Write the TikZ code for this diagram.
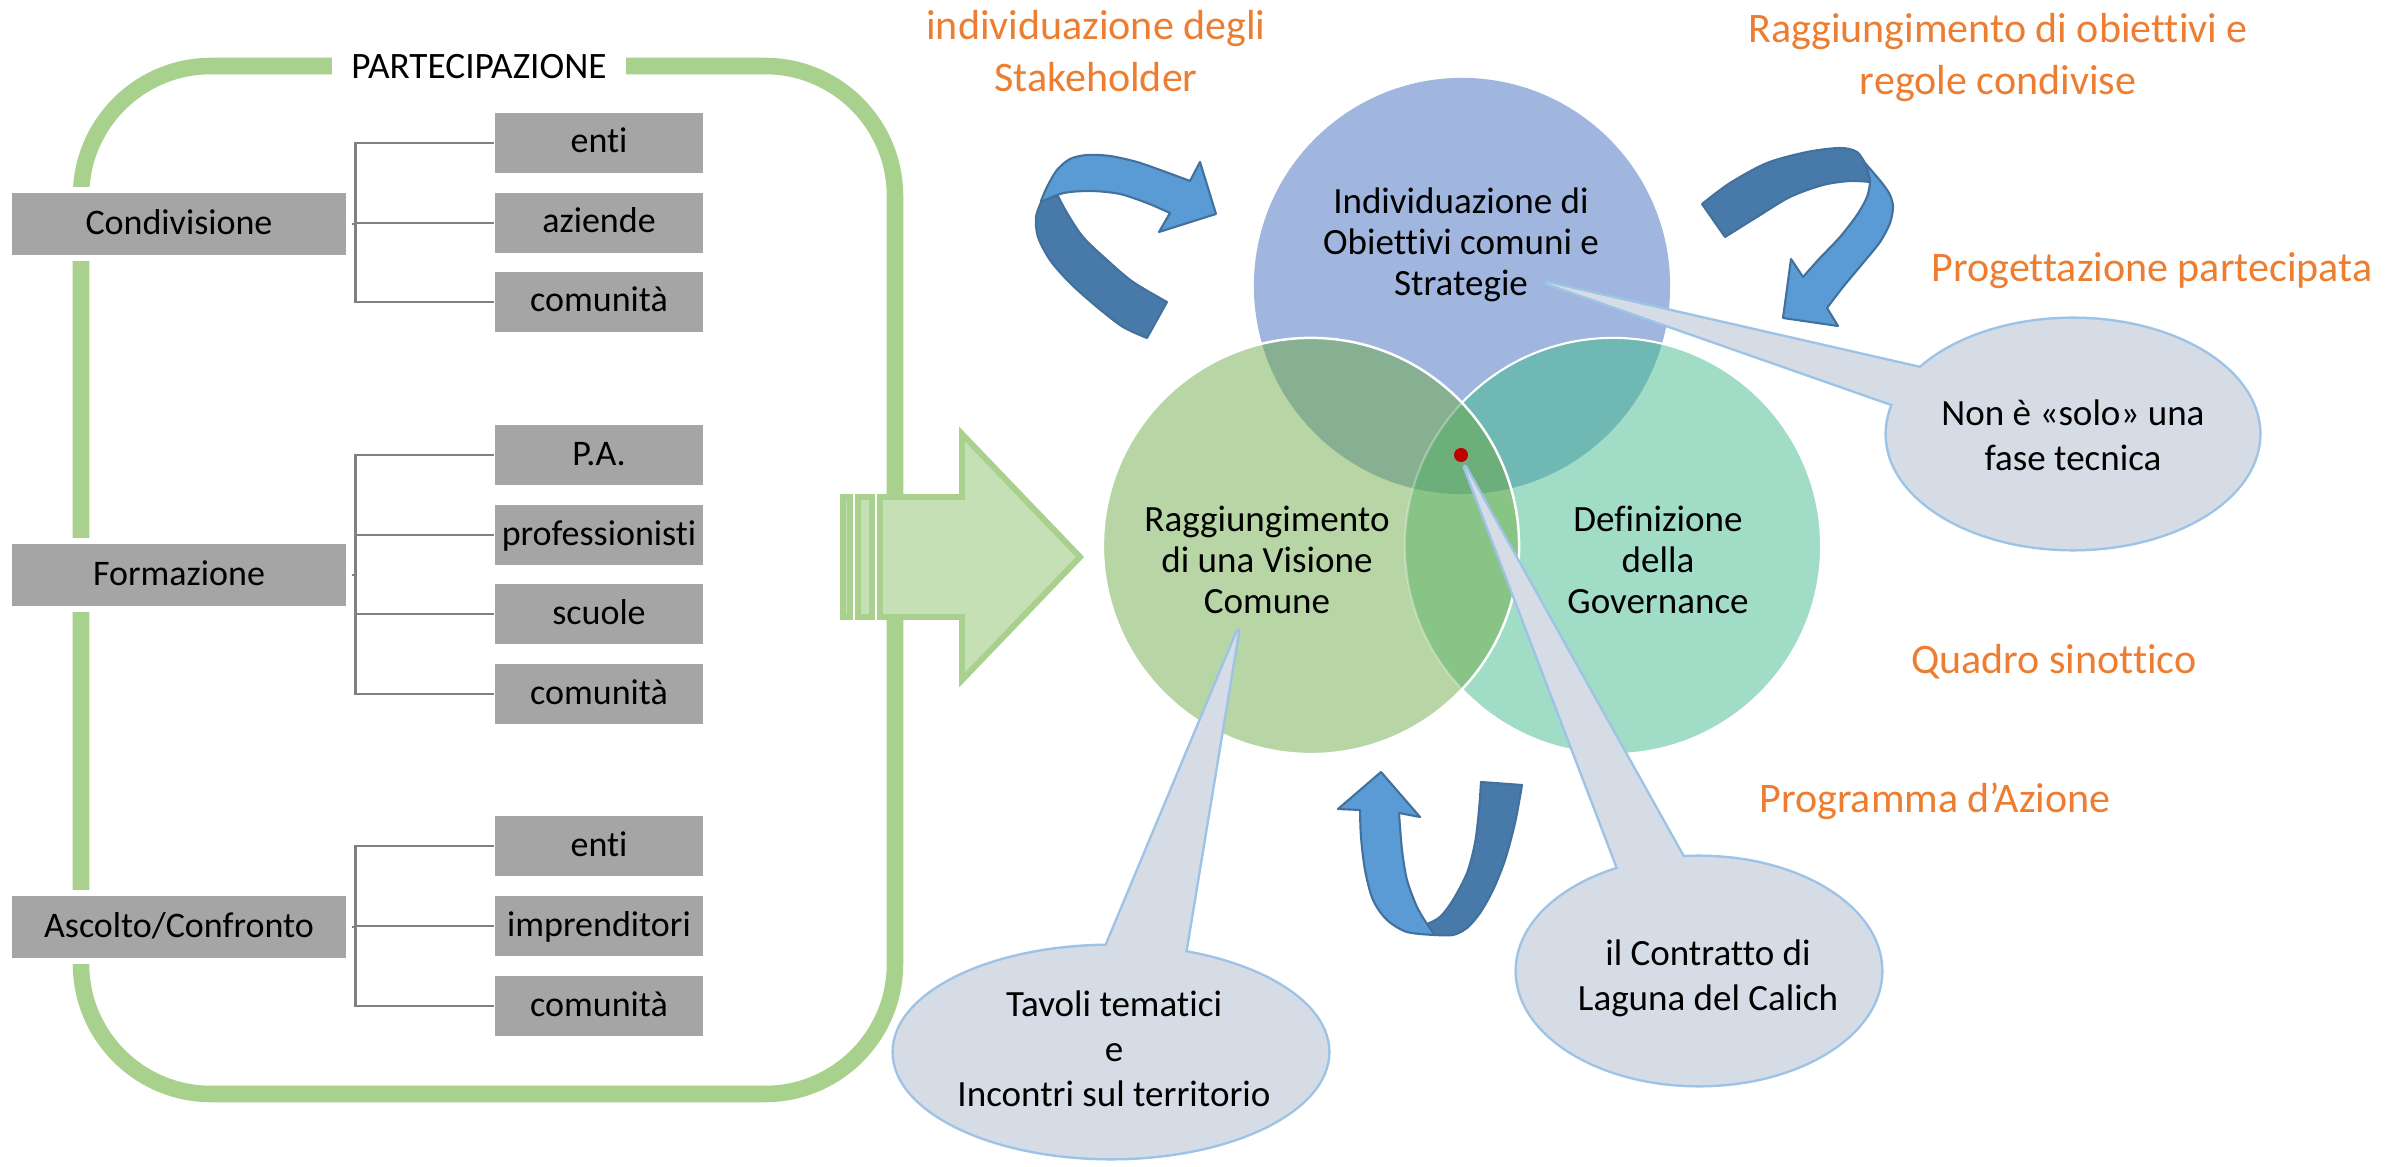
\documentclass[tikz,border=0pt]{standalone}
\usepackage{fontspec}
\setmainfont[Ligatures={NoCommon}]{Carlito}
\definecolor{boxgray}{HTML}{A5A5A5}
\definecolor{conngray}{HTML}{808080}
\definecolor{framegreen}{HTML}{A9D18E}
\definecolor{arrowfill}{HTML}{C5E0B4}
\definecolor{orangetxt}{HTML}{ED7D31}
\definecolor{blueC}{HTML}{A0B6DF}
\definecolor{tealC}{HTML}{A1DCC6}
\definecolor{greenC}{HTML}{B7D5A5}
\definecolor{bgC}{HTML}{87B092}
\definecolor{btC}{HTML}{70B8B4}
\definecolor{gtC}{HTML}{89C487}
\definecolor{allC}{HTML}{6DAF7B}
\definecolor{callfill}{HTML}{D6DCE5}
\definecolor{callborder}{HTML}{9DC3E6}
\definecolor{arlight}{HTML}{5B9BD5}
\definecolor{ardark}{HTML}{4779A9}
\definecolor{arline}{HTML}{41719C}
\definecolor{dotred}{HTML}{C00000}
\newcommand\fBox{\fontsize{10.24pt}{12.5pt}\selectfont}
\newcommand\fPart{\fontsize{10.6pt}{12.8pt}\selectfont}
\newcommand\fCirc{\fontsize{10.53pt}{11.67pt}\selectfont}
\newcommand\fCall{\fontsize{10.53pt}{12.8pt}\selectfont}
\newcommand\fOr{\fontsize{11.95pt}{14.8pt}\selectfont}
\begin{document}
\begin{tikzpicture}[x=0.01cm,y=-0.01cm,
  catbox/.style={fill=boxgray,draw=white,line width=1.7pt,minimum width=3.39cm,minimum height=0.67cm,inner sep=0pt,font=\fBox,text height=0.22cm,text depth=0.02cm},
  itembox/.style={fill=boxgray,draw=white,line width=0.4pt,minimum width=2.09cm,minimum height=0.62cm,inner sep=0pt,font=\fBox,text height=0.22cm,text depth=0.02cm},
  conn/.style={draw=conngray,line width=0.7pt},
  frame/.style={draw=framegreen,line width=4.7pt,rounded corners=1.3cm},
  bigarrow/.style={fill=arrowfill,draw=framegreen,line width=1.7pt,line join=miter},
  orange/.style={text=orangetxt,font=\fOr,align=center,inner sep=0pt},
  circtxt/.style={font=\fCirc,align=center,inner sep=0pt},
  calltxt/.style={font=\fCall,align=center,inner sep=0pt},
  callline/.style={draw=callborder,line width=1.4pt,line join=round},
  arrowlight/.style={fill=arlight,draw=arline,line width=0.6pt,line join=round},
  arrowdark/.style={fill=ardark,draw=arline,line width=0.6pt,line join=round},
  circR/.style={radius=2.08cm}
]
\fill[white] (0,0) rectangle (2405,1167);
\useasboundingbox (0,0) rectangle (2405,1167);

% ---------- left frame ----------
\draw[frame] (81,66) rectangle (895,1094);
\node[fill=white,minimum width=2.94cm,minimum height=0.3cm,inner sep=0pt,font=\fPart] (part) at (479,67) {PARTECIPAZIONE};

\node[catbox] (cond) at (179,224) {Condivisione};
\node[catbox] (form) at (179,575) {Formazione};
\node[catbox] (asc) at (179,927) {Ascolto/Confronto};

\node[itembox] (c1) at (599,143) {enti};
\node[itembox] (c2) at (599,223) {aziende};
\node[itembox] (c3) at (599,302) {comunità};
\node[itembox] (f1) at (599,455) {P.A.};
\node[itembox] (f2) at (599,535) {professionisti};
\node[itembox] (f3) at (599,614) {scuole};
\node[itembox] (f4) at (599,694) {comunità};
\node[itembox] (a1) at (599,846) {enti};
\node[itembox] (a2) at (599,926) {imprenditori};
\node[itembox] (a3) at (599,1006) {comunità};

\foreach \c/\i in {cond/c1,cond/c2,cond/c3,form/f1,form/f2,form/f3,form/f4,asc/a1,asc/a2,asc/a3}{
  \draw[conn] (\c.east) -- ++(4,0) |- (\i.west);
}

% ---------- big green arrow ----------
\filldraw[bigarrow] (880,497) -- (962,497) -- (962,434) -- (1080,557) -- (962,680) -- (962,617) -- (880,617) -- cycle;
\filldraw[bigarrow,line width=1.55pt] (843,497) rectangle (850,617);
\filldraw[bigarrow,line width=1.55pt] (858,497) rectangle (872,617);

% ---------- Venn ----------
\coordinate (cB) at (1462,286);
\coordinate (cG) at (1311,546);
\coordinate (cT) at (1613,546);
\fill[blueC] (cB) circle[circR];
\fill[tealC] (cT) circle[circR];
\begin{scope}
  \clip (cB) circle[circR];
  \fill[btC] (cT) circle[circR];
\end{scope}
\draw[white,line width=0.6pt] (cT) circle[circR];
\fill[greenC] (cG) circle[circR];
\begin{scope}
  \clip (cG) circle[circR];
  \fill[bgC] (cB) circle[circR];
  \fill[gtC] (cT) circle[circR];
  \begin{scope}
    \clip (cB) circle[circR];
    \fill[allC] (cT) circle[circR];
  \end{scope}
  \draw[white,opacity=0.3,line width=0.6pt] (cT) circle[circR];
\end{scope}
\draw[white,line width=0.7pt] (cG) circle[circR];

\node[circtxt] (tObj) at (1461,245) {Individuazione di\\Obiettivi comuni e\\Strategie};
\node[circtxt] (tVis) at (1267,560) {Raggiungimento\\di una Visione\\Comune};
\node[circtxt] (tGov) at (1658,560) {Definizione\\della\\Governance};

% ---------- curved arrows ----------
% A (top left)
\filldraw[arrowdark] plot[smooth] coordinates {(1042,200) (1036,217) (1038,237) (1050,260) (1070,283) (1097,307) (1123,327) (1147,338)} -- (1167,302) -- plot[smooth] coordinates {(1167,302) (1133,282) (1107,260) (1083,237) (1067,213) (1058,196)} -- cycle;
\filldraw[arrowlight] plot[smooth] coordinates {(1041,201) (1047,187) (1057,170) (1070,159) (1087,155) (1110,156) (1137,162) (1163,171) (1190,181)} -- (1200,162) -- (1216,214) -- (1159,232) -- (1170,213) -- plot[smooth] coordinates {(1170,213) (1147,203) (1120,194) (1093,191) (1070,192) (1057,195) (1043,201)} -- cycle;
% B (top right)
\filldraw[arrowdark] plot[smooth] coordinates {(1702,204) (1730,183) (1767,163) (1807,152) (1840,148) (1857,152) (1866,165)} -- (1870,182) -- plot[smooth] coordinates {(1870,182) (1850,181) (1823,185) (1790,197) (1757,217) (1725,237)} -- cycle;
\filldraw[arrowlight] plot[smooth] coordinates {(1865,163) (1882,183) (1890,195) (1893,207) (1890,223) (1880,242) (1863,263) (1843,287) (1827,308)} -- (1838,326) -- (1783,318) -- (1791,259) -- (1803,277) -- plot[smooth] coordinates {(1803,277) (1820,258) (1840,237) (1857,215) (1867,197) (1870,182) (1868,172) (1865,163)} -- cycle;
% C (bottom)
\filldraw[arrowlight] (1381,772) -- (1420,817) -- (1399,813) -- plot[smooth] coordinates {(1399,813) (1402,850) (1407,880) (1417,907) (1427,924)} -- (1435,935) -- plot[smooth] coordinates {(1435,935) (1407,932) (1387,920) (1373,900) (1365,870) (1361,837) (1360,810)} -- (1338,809) -- cycle;
\filldraw[arrowdark] plot[smooth] coordinates {(1427,924) (1440,917) (1453,900) (1467,873) (1475,843) (1479,810) (1481,782)} -- (1522,785) -- plot[smooth] coordinates {(1522,785) (1515,823) (1505,860) (1493,890) (1480,913) (1467,928) (1453,935) (1435,935)} -- cycle;

% ---------- callouts ----------
\coordinate (n0) at (2073,434);
\coordinate (nT) at (1547,283);
\coordinate (nA) at (1928,370);
\coordinate (nB) at (1898,406);
\coordinate (v0) at (1111,1052);
\coordinate (vT) at (1238,631);
\coordinate (vA) at (1104,952);
\coordinate (vB) at (1184,959);
\coordinate (k0) at (1699,971);
\coordinate (kT) at (1465,467);
\coordinate (kA) at (1620,873);
\coordinate (kB) at (1685,861);

\draw[callline] (nT) -- (nA) -- (nB) -- cycle;
\draw[callline] (n0) ellipse[x radius=1.86cm,y radius=1.15cm];
\fill[callfill] (nT) -- (nA) -- (nB) -- cycle;
\fill[callfill] (n0) ellipse[x radius=1.86cm,y radius=1.15cm];

\draw[callline] (vT) -- (vA) -- (vB) -- cycle;
\draw[callline] (v0) ellipse[x radius=2.17cm,y radius=1.06cm];
\fill[callfill] (vT) -- (vA) -- (vB) -- cycle;
\fill[callfill] (v0) ellipse[x radius=2.17cm,y radius=1.06cm];

\draw[callline] (kT) -- (kA) -- (kB) -- cycle;
\draw[callline] (k0) ellipse[x radius=1.82cm,y radius=1.14cm];
\fill[callfill] (kT) -- (kA) -- (kB) -- cycle;
\fill[callfill] (k0) ellipse[x radius=1.82cm,y radius=1.14cm];

\node[circle,fill=dotred,minimum size=0.14cm,inner sep=0pt] (dot) at (1461,455) {};

\node[calltxt] (tNon) at (2073,435) {Non è «solo» una\\fase tecnica};
\node[calltxt] (tTav) at (1114,1049) {Tavoli tematici\\e\\Incontri sul territorio};
\node[calltxt] (tCon) at (1708,978) {il Contratto di\\Laguna del Calich};

% ---------- orange labels ----------
\node[orange] (oStake) at (1096,51) {individuazione degli\\Stakeholder};
\node[orange] (oRegole) at (1998,58) {Raggiungimento di obiettivi e\\regole condivise};
\node[orange] (oProg) at (2152,271) {Progettazione partecipata};
\node[orange] (oQuadro) at (2054,662) {Quadro sinottico};
\node[orange] (oAzione) at (1935,801) {Programma d’Azione};
\end{tikzpicture}
\end{document}
